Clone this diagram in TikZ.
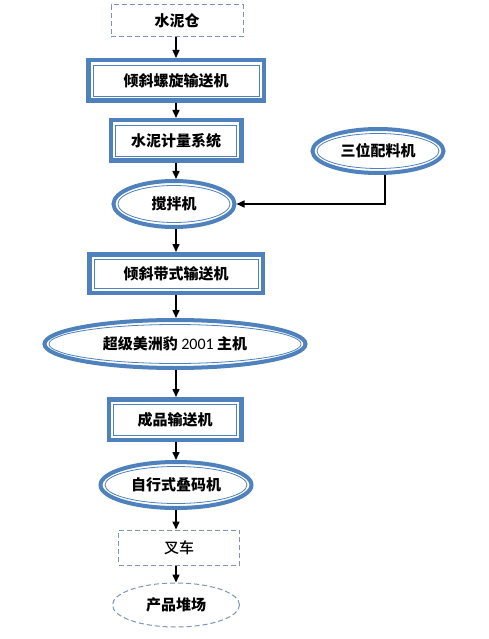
\documentclass[tikz,border=0pt]{standalone}
\usepackage{fontspec}
\newfontfamily\cjk{Noto Sans CJK SC}
\newfontfamily\cjkm{Noto Sans CJK SC Medium}
\newfontfamily\lat{Carlito}
\usetikzlibrary{arrows.meta,shapes.geometric}
\definecolor{bord}{HTML}{4F81BD}
\definecolor{dashc}{HTML}{7B94BC}
\begin{document}
\begin{tikzpicture}[x=1pt,y=-1pt,
  txt/.style={font=\cjk\bfseries\fontsize{15}{18}\selectfont, text=black, inner sep=0pt},
  box/.style={txt, rectangle, draw=bord, line width=4.5pt, fill=white},
  ell/.style={txt, ellipse, draw=bord, line width=4pt, fill=white},
  dbox/.style={txt, rectangle, draw=dashc, line width=1pt, dash pattern=on 5pt off 3pt, fill=white},
  dell/.style={txt, ellipse, draw=dashc, line width=1pt, dash pattern=on 5pt off 3pt, fill=white},
  innerline/.style={draw=bord, line width=0.8pt},
  arr/.style={-{Triangle[length=8pt,width=7pt]}, line width=1.5pt, draw=black}]
\fill[white] (0,0) rectangle (488,639);
\useasboundingbox (0,0) rectangle (488,639);

\node[dbox, minimum width=132pt, minimum height=32pt] (n1) at (177,21) {水泥仓};
\node[box, minimum width=175.5pt, minimum height=40.5pt] (n2) at (176,80.5) {倾斜螺旋输送机};
\node[box, minimum width=130.5pt, minimum height=40.5pt] (n3) at (176,140.5) {水泥计量系统};
\node[ell, minimum width=121pt, minimum height=46pt] (n4) at (174,204) {搅拌机};
\node[ell, minimum width=131pt, minimum height=44pt] (n5) at (378,151) {三位配料机};
\node[box, minimum width=173.5pt, minimum height=38.5pt] (n6) at (176,273.5) {倾斜带式输送机};
\node[ell, minimum width=261pt, minimum height=48pt] (n7) at (175,344) {超级美洲豹 {\lat\mdseries\fontsize{16}{18}\selectfont 2001} 主机};
\node[box, minimum width=132.5pt, minimum height=40.5pt] (n8) at (175,419.5) {成品输送机};
\node[ell, minimum width=151pt, minimum height=46pt] (n9) at (176,485) {自行式叠码机};
\node[dbox, font=\cjkm\fontsize{15}{18}\selectfont, minimum width=121pt, minimum height=35pt] (n10) at (179,547.5) {叉车};
\node[dell, minimum width=127pt, minimum height=44pt] (n11) at (176,605) {产品堆场};

% inner thin borders
\draw[innerline] ([shift={(7pt,7pt)}]n2.south west) rectangle ([shift={(-7pt,-7pt)}]n2.north east);
\draw[innerline] ([shift={(7pt,7pt)}]n3.south west) rectangle ([shift={(-7pt,-7pt)}]n3.north east);
\draw[innerline] ([shift={(7pt,7pt)}]n6.south west) rectangle ([shift={(-7pt,-7pt)}]n6.north east);
\draw[innerline] ([shift={(7pt,7pt)}]n8.south west) rectangle ([shift={(-7pt,-7pt)}]n8.north east);
\draw[innerline] (n4.center) ellipse [x radius=56pt, y radius=18.5pt];
\draw[innerline] (n5.center) ellipse [x radius=61pt, y radius=17.5pt];
\draw[innerline] (n7.center) ellipse [x radius=126pt, y radius=19.5pt];
\draw[innerline] (n9.center) ellipse [x radius=71pt, y radius=18.5pt];

% connectors (vertical column at x = 176)
\coordinate (col) at (176,0);
\draw[arr] (n1.south -| col) -- (n2.north -| col);
\draw[arr] (n2.south -| col) -- (n3.north -| col);
\draw[arr] (n3.south -| col) -- (n4.north -| col);
\draw[arr] (n4.south -| col) -- (n6.north -| col);
\draw[arr] (n6.south -| col) -- (n7.north -| col);
\draw[arr] (n7.south -| col) -- (n8.north -| col);
\draw[arr] (n8.south -| col) -- (n9.north -| col);
\draw[arr] (n9.south -| col) -- (n10.north -| col);
\draw[arr] (n10.south -| col) -- (n11.north -| col);
\coordinate (c1) at (385,204);
\draw[arr] (n5.south -| c1) -- (c1) -- (n4.east);
\end{tikzpicture}
\end{document}
